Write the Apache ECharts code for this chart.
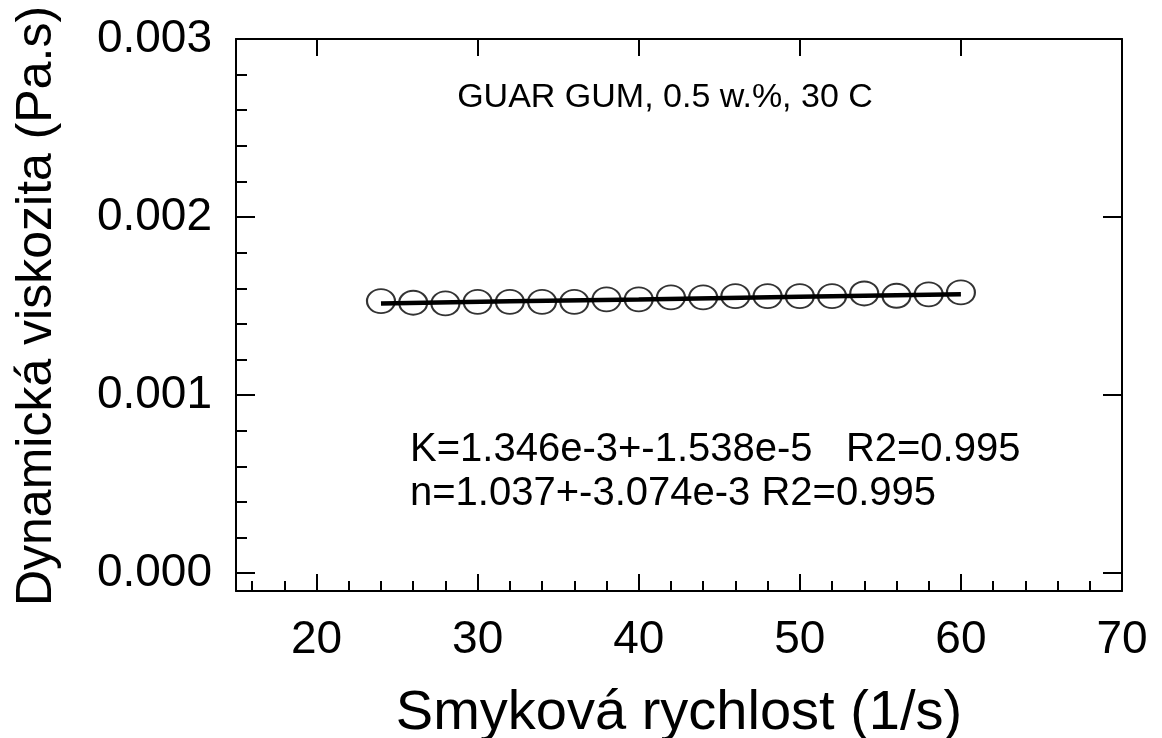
<!DOCTYPE html>
<html>
<head>
<meta charset="utf-8">
<title>Guar gum viskozita</title>
<script src="https://cdn.jsdelivr.net/npm/echarts@6/dist/echarts.min.js"></script>
<style>
  html, body { margin: 0; padding: 0; background: #fff; }
  #chart { width: 1162px; height: 738px; }
</style>
</head>
<body>
<div id="chart"></div>
<script>
// namerene body (smykova rychlost 1/s, viskozita Pa.s)
const shearRate = [24, 26, 28, 30, 32, 34, 36, 38, 40, 42, 44, 46, 48, 50, 52, 54, 56, 58, 60]
const viscosity = [0.001528, 0.001519, 0.001515, 0.001524, 0.001524, 0.001524, 0.001524, 0.001538, 0.001538,
  0.001549, 0.001549, 0.001556, 0.001556, 0.001556, 0.001556, 0.001571, 0.001558, 0.001566, 0.001577]

// prolozena krivka
const fitX = [24, 32, 40, 50, 60]
const fitY = [0.001514, 0.001527, 0.001537, 0.001552, 0.001566]

// popisky os / ticky
const xMajor = [20, 30, 40, 50, 60, 70]
const xMinor = [16, 18, 22, 24, 26, 28, 32, 34, 36, 38, 42, 44, 46, 48, 52, 54, 56, 58, 62, 64, 66, 68]
const yMajor = [0, 0.001, 0.002, 0.003]
const yMinor = [0.0002, 0.0004, 0.0006, 0.0008, 0.0012, 0.0014, 0.0016, 0.0018,
  0.0022, 0.0024, 0.0026, 0.0028]

const titleText = 'GUAR GUM, 0.5 w.%, 30 C'
const fitText = ['K=1.346e-3+-1.538e-5   R2=0.995', 'n=1.037+-3.074e-3 R2=0.995']

const FONT = '"Liberation Sans", Arial, sans-serif'
const chart = echarts.init(document.getElementById('chart'))

const line = { show: true, onZero: false, lineStyle: { color: '#000', width: 2 } }
const noLine = { show: false, onZero: false }
const noLabel = { show: false }
const tickStyle = { color: '#000', width: 2 }

const option = {
  animation: false,
  backgroundColor: '#fff',
  grid: { left: 236, right: 40, top: 39, bottom: 147, containLabel: false, outerBoundsMode: 'none' },
  xAxis: [
    {
      type: 'value', position: 'bottom', min: 15, max: 70,
      axisLine: line,
      axisTick: { show: true, inside: true, length: 17, customValues: xMajor, lineStyle: tickStyle },
      axisLabel: { customValues: xMajor, color: '#000', fontSize: 46, fontFamily: FONT, margin: 26 },
      splitLine: { show: false },
      name: 'Smyková rychlost (1/s)', nameLocation: 'middle', nameGap: 95,
      nameTextStyle: { color: '#000', fontSize: 56, fontFamily: FONT }
    },
    {
      // vedlejsi ticky dole
      type: 'value', position: 'bottom', min: 15, max: 70,
      axisLine: noLine,
      axisTick: { show: true, inside: true, length: 10, customValues: xMinor, lineStyle: tickStyle },
      axisLabel: noLabel, splitLine: { show: false }
    },
    {
      type: 'value', position: 'top', min: 15, max: 70,
      axisLine: line,
      axisTick: { show: true, inside: true, length: 17, customValues: xMajor, lineStyle: tickStyle },
      axisLabel: noLabel, splitLine: { show: false }
    }
  ],
  yAxis: [
    {
      type: 'value', position: 'left', min: -0.0001, max: 0.003,
      axisLine: line,
      axisTick: { show: true, inside: true, length: 19, customValues: yMajor, lineStyle: tickStyle },
      axisLabel: {
        customValues: yMajor, color: '#000', fontSize: 46, fontFamily: FONT, margin: 24,
        formatter: v => v.toFixed(3)
      },
      splitLine: { show: false },
      name: 'Dynamická viskozita (Pa.s)', nameLocation: 'middle', nameGap: 174,
      nameTextStyle: { color: '#000', fontSize: 50, fontFamily: FONT, padding: [0, 0, 0, 18] }
    },
    {
      type: 'value', position: 'left', min: -0.0001, max: 0.003,
      axisLine: noLine,
      axisTick: { show: true, inside: true, length: 11, customValues: yMinor, lineStyle: tickStyle },
      axisLabel: noLabel, splitLine: { show: false }
    },
    {
      type: 'value', position: 'right', min: -0.0001, max: 0.003,
      axisLine: line,
      axisTick: { show: true, inside: true, length: 19, customValues: yMajor, lineStyle: tickStyle },
      axisLabel: noLabel, splitLine: { show: false }
    }
  ],
  series: [
    {
      type: 'scatter',
      data: shearRate.map((x, i) => [x, viscosity[i]]),
      symbol: 'circle',
      symbolSize: [28, 24],
      itemStyle: { color: 'rgba(0,0,0,0)', borderColor: '#000', borderWidth: 2 },
      z: 2
    },
    {
      type: 'line',
      data: fitX.map((x, i) => [x, fitY[i]]),
      showSymbol: false,
      symbol: 'none',
      lineStyle: { color: '#000', width: 4.5 },
      z: 3
    }
  ],
  graphic: [
    {
      type: 'text', x: 665, y: 98,
      style: { text: titleText, font: '34px ' + FONT, fill: '#000', align: 'center', verticalAlign: 'middle' }
    },
    {
      type: 'text', x: 410, y: 450,
      style: { text: fitText[0], font: '40px ' + FONT, fill: '#000', align: 'left', verticalAlign: 'middle' }
    },
    {
      type: 'text', x: 410, y: 494,
      style: { text: fitText[1], font: '40px ' + FONT, fill: '#000', align: 'left', verticalAlign: 'middle' }
    }
  ]
}

chart.setOption(option)
</script>
</body>
</html>
